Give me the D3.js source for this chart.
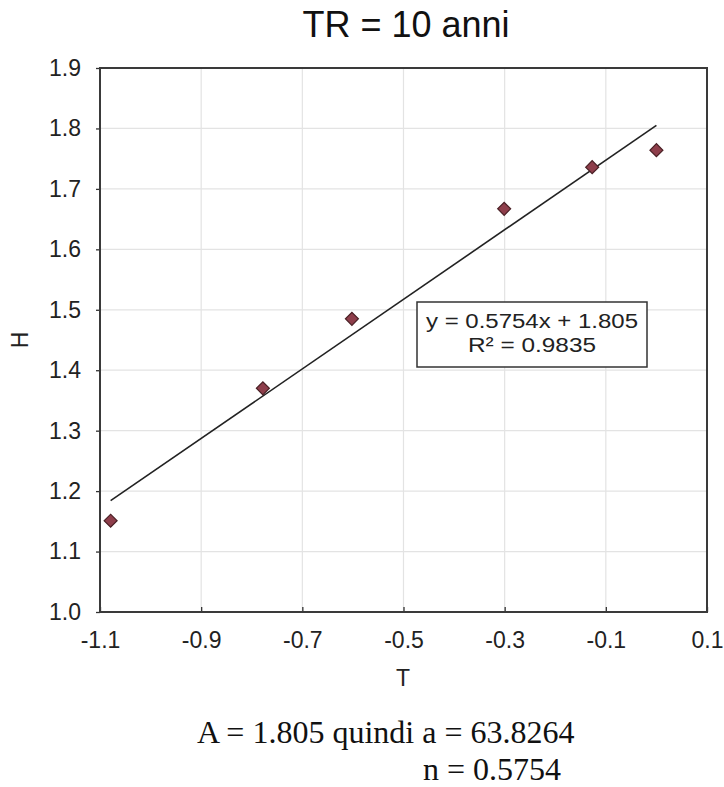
<!DOCTYPE html>
<html>
<head>
<meta charset="utf-8">
<script src="https://cdn.jsdelivr.net/npm/d3@7"></script>
<style>
  html, body { margin: 0; padding: 0; background: #fff; }
  svg { display: block; }
</style>
</head>
<body>
<svg id="chart" width="724" height="787"></svg>
<script>
// data
const tValues = [-1.079, -0.778, -0.602, -0.301, -0.127, 0.0];
const hValues = [1.151, 1.370, 1.485, 1.667, 1.736, 1.764];
const slope = 0.5754;
const intercept = 1.805;
const xTicks = [-1.1, -0.9, -0.7, -0.5, -0.3, -0.1, 0.1];
const yTicks = [1.0, 1.1, 1.2, 1.3, 1.4, 1.5, 1.6, 1.7, 1.8, 1.9];
const titleText = "TR = 10 anni";
const eqLines = ["y = 0.5754x + 1.805", "R\u00b2 = 0.9835"];
const noteLines = ["A = 1.805 quindi a = 63.8264", "n = 0.5754"];

const svg = d3.select("#chart");
const sans = "'Liberation Sans', Arial, sans-serif";
const serif = "'Liberation Serif', 'Times New Roman', serif";
const fmt = d => d.toFixed(1); // plain hyphen minus, like the original

const x = d3.scaleLinear().domain([-1.1, 0.1]).range([100, 707]);
const y = d3.scaleLinear().domain([1.0, 1.9]).range([612, 68]);

// grid
svg.append("g").selectAll("line.vg")
    .data(xTicks.slice(1, -1)).enter().append("line")
    .attr("x1", d => x(d)).attr("x2", d => x(d))
    .attr("y1", y(1.9)).attr("y2", y(1.0))
    .attr("stroke", "#e3e3e3").attr("stroke-width", 1.2);
svg.append("g").selectAll("line.hg")
    .data(yTicks.slice(1, -1)).enter().append("line")
    .attr("x1", x(-1.1)).attr("x2", x(0.1))
    .attr("y1", d => y(d)).attr("y2", d => y(d))
    .attr("stroke", "#e3e3e3").attr("stroke-width", 1.2);

// axes
const xAxis = svg.append("g")
    .attr("transform", `translate(0,${y(1.0)})`)
    .call(d3.axisBottom(x).tickValues(xTicks).tickSize(-5).tickFormat(fmt));
xAxis.select(".domain").remove();
xAxis.selectAll("line").attr("stroke", "#333").attr("stroke-width", 1.3);
xAxis.selectAll("text")
    .attr("y", 36).attr("dy", 0)
    .style("font-family", sans).style("font-size", "23px").attr("fill", "#222");

const yAxis = svg.append("g")
    .attr("transform", `translate(${x(-1.1)},0)`)
    .call(d3.axisLeft(y).tickValues(yTicks).tickSize(4).tickPadding(15).tickFormat(fmt));
yAxis.select(".domain").remove();
yAxis.selectAll("line").attr("stroke", "#333").attr("stroke-width", 1.3);
yAxis.selectAll("text")
    .style("font-family", sans).style("font-size", "23px").attr("fill", "#222");

// plot frame
svg.append("rect")
    .attr("x", x(-1.1)).attr("y", y(1.9))
    .attr("width", x(0.1) - x(-1.1)).attr("height", y(1.0) - y(1.9))
    .attr("fill", "none").attr("stroke", "#3a3a3a").attr("stroke-width", 2);

// trend line over the data range
const tMin = d3.min(tValues), tMax = d3.max(tValues);
svg.append("line")
    .attr("x1", x(tMin)).attr("y1", y(slope * tMin + intercept))
    .attr("x2", x(tMax)).attr("y2", y(slope * tMax + intercept))
    .attr("stroke", "#222").attr("stroke-width", 1.6);

// points
const diamond = d3.symbol().type(d3.symbolSquare).size(84);
svg.append("g").selectAll("path")
    .data(tValues.map((t, i) => [t, hValues[i]])).enter().append("path")
    .attr("d", diamond)
    .attr("transform", d => `translate(${x(d[0])},${y(d[1])}) rotate(45)`)
    .attr("fill", "#8e3e4b").attr("stroke", "#4a2025").attr("stroke-width", 1.2);

// equation box
const box = svg.append("g");
box.append("rect")
    .attr("x", 417).attr("y", 302).attr("width", 230).attr("height", 65)
    .attr("fill", "#fff").attr("stroke", "#333").attr("stroke-width", 1.5);
box.selectAll("text").data(eqLines).enter().append("text")
    .attr("x", 532).attr("y", (d, i) => 328 + i * 23.5)
    .attr("text-anchor", "middle")
    .attr("textLength", (d, i) => i === 0 ? 212 : 128)
    .attr("lengthAdjust", "spacingAndGlyphs")
    .style("font-family", sans).style("font-size", "20px").attr("fill", "#222")
    .text(d => d);

// title
svg.append("text")
    .attr("x", 406).attr("y", 37).attr("text-anchor", "middle")
    .style("font-family", sans).style("font-size", "36px").attr("fill", "#111")
    .text(titleText);

// axis titles
svg.append("text")
    .attr("x", 403).attr("y", 686).attr("text-anchor", "middle")
    .style("font-family", sans).style("font-size", "23px").attr("fill", "#222")
    .text("T");
svg.append("text")
    .attr("transform", "translate(28,340) rotate(-90)").attr("text-anchor", "middle")
    .style("font-family", sans).style("font-size", "23px").attr("fill", "#222")
    .text("H");

// notes under the chart
svg.append("text")
    .attr("x", 197).attr("y", 743)
    .style("font-family", serif).style("font-size", "32px").attr("fill", "#111")
    .text(noteLines[0]);
svg.append("text")
    .attr("x", 423).attr("y", 780)
    .style("font-family", serif).style("font-size", "32px").attr("fill", "#111")
    .text(noteLines[1]);
</script>
</body>
</html>
